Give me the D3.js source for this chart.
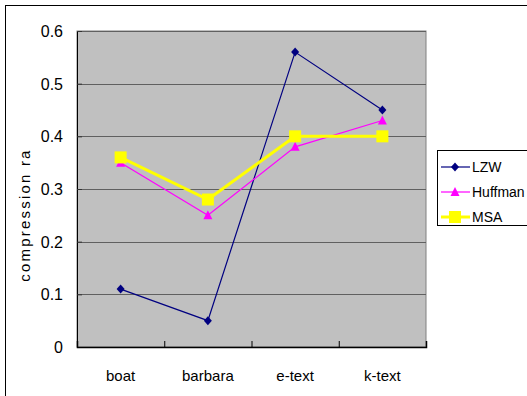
<!DOCTYPE html>
<html><head><meta charset="utf-8">
<script src="https://cdn.jsdelivr.net/npm/d3@7"></script>
<style>body{margin:0;background:#fff}svg{display:block}text{font-family:"Liberation Sans",Arial,sans-serif}</style>
</head><body>
<script>
const categories = ["boat","barbara","e-text","k-text"];
const lzw = [0.11,0.05,0.56,0.45];
const huffman = [0.35,0.25,0.38,0.43];
const msa = [0.36,0.28,0.40,0.40];
const yTicks = [0,0.1,0.2,0.3,0.4,0.5,0.6];
const yTickLabels = ["0","0.1","0.2","0.3","0.4","0.5","0.6"];
const seriesNames = ["LZW","Huffman","MSA"];

const W=527,H=396;
const svg=d3.select("body").append("svg").attr("width",W).attr("height",H);
svg.append("rect").attr("x",5.5).attr("y",5.5).attr("width",530).attr("height",400).attr("fill","#fff").attr("stroke","#000");
const L=77,R=426,T=31,B=347;
const x=d3.scaleBand().domain(categories).range([L,R]);
const y=d3.scaleLinear().domain([0,0.6]).range([B,T]);
svg.append("rect").attr("x",L).attr("y",T).attr("width",R-L).attr("height",B-T).attr("fill","#c0c0c0").attr("stroke","#808080");
svg.selectAll(".grid").data(yTicks.slice(1)).enter().append("line")
 .attr("x1",L).attr("x2",R).attr("y1",d=>Math.round(y(d))+0.5).attr("y2",d=>Math.round(y(d))+0.5)
 .attr("stroke","#606060").attr("stroke-width",1);
const ya=svg.append("g").attr("transform",`translate(${L},0)`).call(d3.axisRight(y).tickValues(yTicks).tickSize(5).tickFormat(""));
ya.select(".domain").attr("stroke","#000");
ya.selectAll(".tick line").attr("stroke","#333");
svg.selectAll(".ylab").data(yTicks).enter().append("text")
 .attr("x",63).attr("y",d=>y(d)+6).attr("text-anchor","end").attr("font-size",16).attr("fill","#000").text((d,i)=>yTickLabels[i]);
const xa=svg.append("g").attr("transform",`translate(0,${B})`).call(d3.axisTop(d3.scaleLinear().domain([0,4]).range([L,R])).tickValues([1,2,3,4]).tickSize(6).tickFormat(""));
xa.select(".domain").attr("stroke","#000").attr("stroke-width",1.5);
xa.selectAll(".tick line").attr("stroke","#000");
svg.selectAll(".xlab").data(categories).enter().append("text")
 .attr("x",d=>x(d)+x.bandwidth()/2).attr("y",381).attr("text-anchor","middle").attr("font-size",15).attr("fill","#000").text(d=>d);
svg.append("text").attr("transform","translate(30,215) rotate(-90)").attr("text-anchor","middle").attr("font-size",15).attr("letter-spacing",2.2).text("compression ra");

const cx=d=>x(d)+x.bandwidth()/2;
const line=d3.line().x((d,i)=>cx(categories[i])).y(d=>y(d));
const series=[
 {name:"LZW",data:lzw,color:"#000080",w:1.2,shape:"diamond"},
 {name:"Huffman",data:huffman,color:"#ff00ff",w:1.2,shape:"triangle"},
 {name:"MSA",data:msa,color:"#ffff00",w:3,shape:"square"}];
function marker(g,shape,color,px,py){
 if(shape==="diamond") g.append("path").attr("d",`M${px},${py-4.5}L${px+4},${py}L${px},${py+4.5}L${px-4},${py}Z`).attr("fill",color);
 else if(shape==="triangle") g.append("path").attr("d",`M${px},${py-5}L${px+4.5},${py+4}L${px-4.5},${py+4}Z`).attr("fill",color);
 else g.append("rect").attr("x",px-6).attr("y",py-6).attr("width",12).attr("height",12).attr("fill",color);
}
series.forEach(s=>{
 svg.append("path").datum(s.data).attr("d",line).attr("fill","none").attr("stroke",s.color).attr("stroke-width",s.w);
 const g=svg.append("g");
 s.data.forEach((v,i)=>marker(g,s.shape,s.color,cx(categories[i]),y(v)));
});
svg.append("rect").attr("x",437.5).attr("y",150.5).attr("width",100).attr("height",75).attr("fill","#fff").attr("stroke","#000");
series.forEach((s,i)=>{
 const ly=167+i*25;
 svg.append("line").attr("x1",441).attr("x2",470).attr("y1",ly).attr("y2",ly).attr("stroke",s.color).attr("stroke-width",s.w);
 const g=svg.append("g"); marker(g,s.shape,s.color,455,ly);
 svg.append("text").attr("x",472).attr("y",ly+5).attr("font-size",14).text(seriesNames[i]);
});
</script>
</body></html>
